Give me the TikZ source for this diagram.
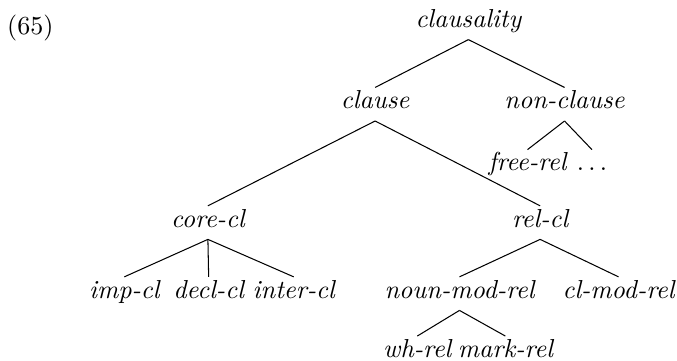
\documentclass[tikz,border=0pt]{standalone}
\tikzset{cat/.style={anchor=base, font=\itshape, inner xsep=0pt, inner ysep=2.5pt, text height=5.5pt, text depth=2pt}}
\begin{document}
\begin{tikzpicture}
	\useasboundingbox (0,0) rectangle (9.15,-4.87);
	\node[anchor=base west, inner sep=0pt] (num) at (0.09,-0.47) {(65)};
	\node[cat] (top) at (6.33,-0.37) {clausality};
	\node[cat] (cls) at (5.07,-1.47) {clause};
	\node[cat] (ncls) at (7.63,-1.47) {non-clause};
	\node[cat] (free) at (7.13,-2.31) {free-rel};
	\node[cat] (more) at (8.00,-2.31) {$\ldots$};
	\node[cat] (core) at (2.81,-3.07) {core-cl};
	\node[cat] (rel) at (7.30,-3.07) {rel-cl};
	\node[cat] (imp) at (1.68,-4.03) {imp-cl};
	\node[cat] (decl) at (2.82,-4.03) {decl-cl};
	\node[cat] (inter) at (3.97,-4.03) {inter-cl};
	\node[cat] (noun) at (6.21,-4.03) {noun-mod-rel};
	\node[cat] (clmod) at (8.36,-4.03) {cl-mod-rel};
	\node[cat] (wh) at (5.64,-4.83) {wh-rel};
	\node[cat] (mark) at (6.83,-4.83) {mark-rel};
	\foreach \p/\c in {top/cls, top/ncls, ncls/free, ncls/more, cls/core, cls/rel, core/imp, core/decl, core/inter, rel/noun, rel/clmod, noun/wh, noun/mark}
		\draw (\p.south) -- (\c.north);
\end{tikzpicture}
\end{document}
